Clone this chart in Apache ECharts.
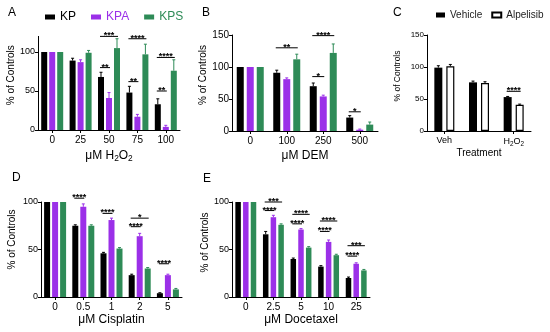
<!DOCTYPE html>
<html><head><meta charset="utf-8">
<script src="https://cdn.jsdelivr.net/npm/echarts@6/dist/echarts.min.js"></script>
<style>html,body{margin:0;padding:0;background:#fff}#c{width:550px;height:332px}</style>
</head><body><div id="c"></div>
<script>
const FONT = '"Liberation Sans", Arial, Helvetica, sans-serif';
const BLACK = '#000000', PURPLE = '#9b30e8', GREEN = '#2e8b57';

// ---- Panel A: H2O2 ----
const catsA = ['0', '25', '50', '75', '100'];
const kpA = [100, 89, 68, 48, 33];
const kpaA = [100, 87, 41, 17, 4];
const kpsA = [100, 99, 105, 97, 76];
const kpErrA = [0, 3, 6, 8, 7];
const kpaErrA = [0, 3, 7, 3, 2];
const kpsErrA = [0, 3, 12, 13, 14];
// [category, fromSeries, toSeries, y, label]
const sigA = [[2,0,1,80,'**'],[2,0,2,120,'***'],[3,0,1,62,'**'],[3,0,2,117,'****'],[4,0,1,50,'**'],[4,0,2,93,'****']];

// ---- Panel B: DEM ----
const catsB = ['0', '100', '250', '500'];
const kpB = [100, 91, 70, 21];
const kpaB = [100, 81, 54, 2];
const kpsB = [100, 112, 122, 10];
const kpErrB = [0, 4, 5, 3];
const kpaErrB = [0, 2, 2, 1];
const kpsErrB = [0, 8, 14, 4];
const sigB = [[1,0,2,130,'**'],[2,0,1,85,'*'],[2,0,2,149,'****'],[3,0,1,30,'*']];

// ---- Panel C: Alpelisib ----
const catsC = ['Veh', 'DEM', 'H2O2'];
const vehC = [99, 76, 53];
const alpC = [101, 75, 41];
const vehErrC = [3, 2, 1];
const alpErrC = [3, 2, 1];
const sigC = [[2,0,1,62,'****']];

// ---- Panel D: Cisplatin ----
const catsD = ['0', '0.5', '1', '2', '5'];
const kpD = [100, 75, 46, 23, 4];
const kpaD = [100, 95, 81, 64, 23];
const kpsD = [100, 75, 51, 30, 8];
const kpErrD = [0, 1, 1, 1, 0.5];
const kpaErrD = [0, 3, 2, 3, 1];
const kpsErrD = [0, 1, 1, 1, 1];
const sigD = [[1,0,1,104,'****'],[2,0,1,88,'****'],[3,0,1,74,'****'],[3,0,2,83,'*'],[4,0,1,35,'****']];

// ---- Panel E: Docetaxel ----
const catsE = ['0', '2.5', '5', '10', '25'];
const kpE = [100, 66, 40, 32, 20];
const kpaE = [100, 84, 71, 58, 35];
const kpsE = [100, 76, 52, 44, 28];
const kpErrE = [0, 3, 1, 1, 1];
const kpaErrE = [0, 2, 1, 2, 1];
const kpsErrE = [0, 1, 1, 1, 1];
const sigE = [[1,0,1,91,'****'],[1,0,2,100,'***'],[2,0,1,77,'****'],[2,0,2,87,'****'],[3,0,1,69,'****'],[3,0,2,80,'****'],[4,0,1,43,'****'],[4,0,2,54,'***']];

const yTicks100 = [0, 50, 100];
const yTicks150 = [0, 50, 100, 150];

const grids = [
  {left: 38, top: 36.4, width: 142, height: 93.6},
  {left: 232, top: 35, width: 146, height: 96},
  {left: 427, top: 35, width: 104, height: 96},
  {left: 41, top: 202, width: 141, height: 95},
  {left: 232, top: 202, width: 138, height: 95}
];

const axisLineStyle = {show: true, lineStyle: {color: '#000', width: 1}};

function xAx(gi, cats, name, nameGap, labelSize, nameSize) {
  return {
    type: 'category', gridIndex: gi, data: cats,
    name: name, nameLocation: 'middle', nameGap: nameGap,
    nameTextStyle: {fontSize: nameSize, color: '#000', fontFamily: FONT,
      rich: {s: {fontSize: nameSize * 0.7, verticalAlign: 'bottom', padding: [6, 0, 0, 0], fontFamily: FONT, color: '#000'}}},
    axisLine: axisLineStyle,
    axisTick: {show: true, alignWithLabel: true, length: 3, lineStyle: {color: '#000'}},
    axisLabel: {fontSize: labelSize, color: '#000', fontFamily: FONT, margin: 5,
      formatter: v => v === 'H2O2' ? 'H{s|2}O{s|2}' : v,
      rich: {s: {fontSize: labelSize * 0.7, verticalAlign: 'bottom', padding: [5, 0, 0, 0], fontFamily: FONT, color: '#000'}}},
    splitLine: {show: false}
  };
}
function yAx(gi, max, ticks, nameGap, labelSize, nameSize, shift) {
  return {
    type: 'value', gridIndex: gi, min: 0, max: max, interval: 50,
    name: '% of Controls', nameLocation: 'middle', nameGap: nameGap,
    nameTextStyle: {fontSize: nameSize, color: '#000', fontFamily: FONT, padding: [0, 0, 0, shift]},
    axisLine: axisLineStyle,
    axisTick: {show: true, length: 3, lineStyle: {color: '#000'}, customValues: ticks},
    axisLabel: {fontSize: labelSize, color: '#000', fontFamily: FONT, margin: 3, customValues: ticks},
    splitLine: {show: false}
  };
}

function offsets(n, bw, gap) {
  const o = [];
  for (let k = 0; k < n; k++) o.push((k - (n - 1) / 2) * (bw + gap));
  return o;
}

function barSeries(gi, name, vals, bw, gapPct, style) {
  return {type: 'bar', name: name, xAxisIndex: gi, yAxisIndex: gi, data: vals,
    barWidth: bw, barGap: gapPct, itemStyle: style, animation: false};
}

function errSeries(gi, vals, errs, off, color) {
  return {
    type: 'custom', xAxisIndex: gi, yAxisIndex: gi, z: 5, silent: true, animation: false,
    data: vals.map((v, i) => [i, v, errs[i]]),
    encode: {x: 0, y: 1},
    renderItem: function (params, api) {
      const i = api.value(0), v = api.value(1), e = api.value(2);
      if (!e) return null;
      const b = api.coord([i, v]);
      const t = api.coord([i, v + e]);
      const x = b[0] + off;
      return {type: 'group', children: [
        {type: 'line', shape: {x1: x, y1: b[1], x2: x, y2: t[1]}, style: {stroke: color, lineWidth: 1}},
        {type: 'line', shape: {x1: x - 1.5, y1: t[1], x2: x + 1.5, y2: t[1]}, style: {stroke: color, lineWidth: 1}}
      ]};
    }
  };
}

function sigSeries(gi, sig, offs) {
  return {
    type: 'custom', xAxisIndex: gi, yAxisIndex: gi, z: 6, silent: true, animation: false,
    data: sig.map(s => [s[0], s[3]]),
    encode: {x: 0, y: 1},
    renderItem: function (params, api) {
      const s = sig[params.dataIndex];
      const p = api.coord([s[0], s[3]]);
      const x1 = p[0] + offs[s[1]] - 1, x2 = p[0] + offs[s[2]] + 1;
      return {type: 'group', children: [
        {type: 'line', shape: {x1: x1, y1: p[1], x2: x2, y2: p[1]}, style: {stroke: '#000', lineWidth: 1}},
        {type: 'text', style: {text: s[4], x: (x1 + x2) / 2, y: p[1] + 4, align: 'center', verticalAlign: 'bottom',
          fontSize: 9, fontWeight: 'bold', fill: '#000', fontFamily: FONT}}
      ]};
    }
  };
}

const series = [];
function tripletPanel(gi, kp, kpa, kps, ek, eka, eks, sig, bw, gap) {
  const pct = (gap / bw * 100) + '%';
  const off = offsets(3, bw, gap);
  series.push(barSeries(gi, 'KP', kp, bw, pct, {color: BLACK}));
  series.push(barSeries(gi, 'KPA', kpa, bw, pct, {color: PURPLE}));
  series.push(barSeries(gi, 'KPS', kps, bw, pct, {color: GREEN}));
  series.push(errSeries(gi, kp, ek, off[0], BLACK));
  series.push(errSeries(gi, kpa, eka, off[1], PURPLE));
  series.push(errSeries(gi, kps, eks, off[2], GREEN));
  series.push(sigSeries(gi, sig, off));
}
tripletPanel(0, kpA, kpaA, kpsA, kpErrA, kpaErrA, kpsErrA, sigA, 6, 2);
tripletPanel(1, kpB, kpaB, kpsB, kpErrB, kpaErrB, kpsErrB, sigB, 7, 3);
tripletPanel(3, kpD, kpaD, kpsD, kpErrD, kpaErrD, kpsErrD, sigD, 6, 2);
tripletPanel(4, kpE, kpaE, kpsE, kpErrE, kpaErrE, kpsErrE, sigE, 5.5, 2.2);
(function () {
  const bw = 8, gap = 4, off = offsets(2, bw, gap), pct = (gap / bw * 100) + '%';
  series.push(barSeries(2, 'Vehicle', vehC, bw, pct, {color: BLACK}));
  series.push(barSeries(2, 'Alpelisib', alpC, bw, pct, {color: '#fff', borderColor: '#000', borderWidth: 1.2}));
  series.push(errSeries(2, vehC, vehErrC, off[0], BLACK));
  series.push(errSeries(2, alpC, alpErrC, off[1], BLACK));
  series.push(sigSeries(2, sigC, off));
})();

function letter(t, x, y) {
  return {type: 'text', left: x, top: y, style: {text: t, fontSize: 12, fill: '#000', fontFamily: FONT}};
}

const option = {
  animation: false,
  backgroundColor: '#fff',
  textStyle: {fontFamily: FONT},
  grid: grids,
  xAxis: [
    xAx(0, catsA, 'μM H{s|2}O{s|2}', 19, 10, 12),
    xAx(1, catsB, 'μM DEM', 19, 10, 12),
    xAx(2, catsC, 'Treatment', 16, 9, 10),
    xAx(3, catsD, 'μM Cisplatin', 17, 10, 12),
    xAx(4, catsE, 'μM Docetaxel', 17, 10, 12)
  ],
  yAxis: [
    yAx(0, 120, yTicks100, 20, 9, 10, 16),
    yAx(1, 150, yTicks150, 22, 10, 10, 16),
    yAx(2, 150, yTicks150, 25, 8, 8.5, 14),
    yAx(3, 100, yTicks100, 24, 9, 10, 20),
    yAx(4, 100, yTicks100, 20, 9, 10, 14)
  ],
  legend: [
    {left: 40, top: 6, icon: 'rect', itemWidth: 10, itemHeight: 5, itemGap: 15, selectedMode: false,
      textStyle: {fontSize: 12, fontFamily: FONT},
      data: [{name: 'KP', textStyle: {color: BLACK}}, {name: 'KPA', textStyle: {color: PURPLE}}, {name: 'KPS', textStyle: {color: GREEN}}]},
    {left: 436, top: 10, width: 140, padding: 0, icon: 'rect', itemWidth: 9, itemHeight: 5, itemGap: 9, selectedMode: false,
      textStyle: {fontSize: 10, color: '#222', fontFamily: FONT},
      data: ['Vehicle', 'Alpelisib']}
  ],
  graphic: [letter('A', 8, 7), letter('B', 202, 7), letter('C', 393, 7), letter('D', 12, 172), letter('E', 203, 173)],
  series: series
};

const chart = echarts.init(document.getElementById('c'), null, {renderer: 'canvas'});
chart.setOption(option);
</script>
</body></html>
